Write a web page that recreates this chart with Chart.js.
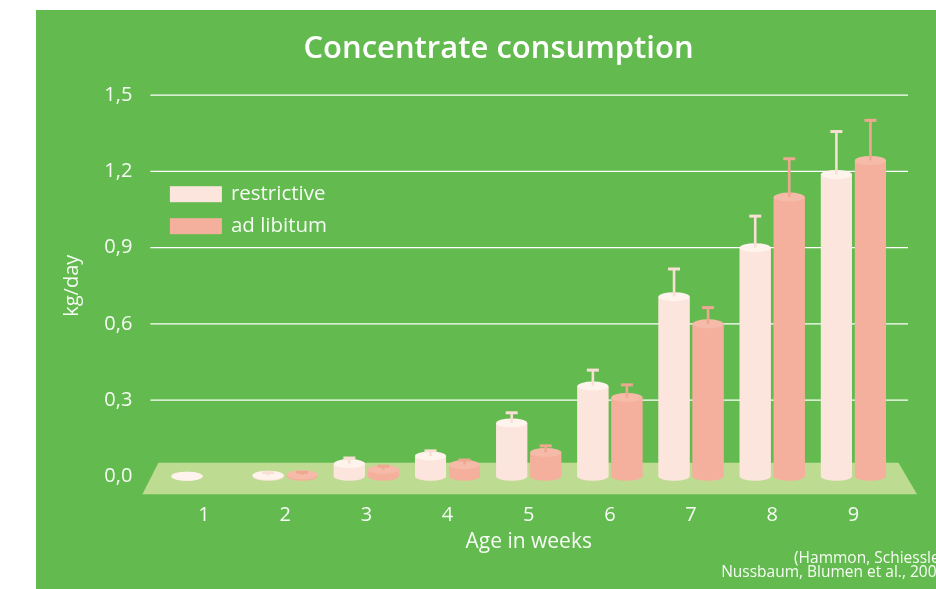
<!DOCTYPE html>
<html>
<head>
<meta charset="utf-8">
<script src="https://cdn.jsdelivr.net/npm/chart.js@4.4.1/dist/chart.umd.min.js"></script>
<style>
  html, body { margin: 0; padding: 0; background: #ffffff; }
  #panel { position: absolute; left: 36px; top: 10px; width: 900px; height: 579px; background: #63bb4f; overflow: hidden; }
</style>
</head>
<body>
<div id="panel"><canvas id="chart" width="900" height="579"></canvas></div>
<script>
// Values (kg/day), error bars as +SD
const weeks = ['1', '2', '3', '4', '5', '6', '7', '8', '9'];
const restrictive = [0.0, 0.004, 0.05, 0.08, 0.21, 0.355, 0.707, 0.90, 1.188];
const restrictiveSd = [null, 0.01, 0.022, 0.02, 0.04, 0.063, 0.109, 0.124, 0.169];
const adLibitum = [null, 0.006, 0.027, 0.046, 0.094, 0.31, 0.60, 1.099, 1.243];
const adLibitumSd = [null, 0.01, 0.013, 0.018, 0.026, 0.05, 0.064, 0.151, 0.158];
const yTicks = [0, 0.3, 0.6, 0.9, 1.2, 1.5];
const sourceLines = ['(Hammon, Schiessler,', 'Nussbaum, Blumen et al., 2002)'];

const FONT = "'Open Sans', sans-serif";
const TEXT = 'rgba(255,255,255,0.94)';

// colours per series: body, lighter top, error bar
const looks = [
    { body: '#fce5dc', top: '#fff3ee', err: '#f9dfd4' },
    { body: '#f4b09c', top: '#f6bba8', err: '#eea790' }
];
const sds = [restrictiveSd, adLibitumSd];

const scenery = {
    id: 'scenery',
    afterLayout(chart) {
        // title sits a bit right of the full-width centre
        chart.titleBlock.left += 57;
    },
    beforeDatasetsDraw(chart) {
        const { ctx, chartArea: a, scales: { y } } = chart;
        ctx.save();
        // grid lines run a little past the plot area
        ctx.strokeStyle = '#ffffff';
        ctx.lineWidth = 1.3;
        yTicks.forEach(v => {
            if (v === 0) return;
            const py = y.getPixelForValue(v);
            ctx.beginPath();
            ctx.moveTo(a.left - 13, py);
            ctx.lineTo(a.right + 14, py);
            ctx.stroke();
        });
        // the light green floor the bars stand on
        const base = y.getPixelForValue(0);
        ctx.fillStyle = '#bddc92';
        ctx.beginPath();
        ctx.moveTo(a.left - 5, base - 13.5);
        ctx.lineTo(a.right + 4.5, base - 13.5);
        ctx.lineTo(a.right + 23, base + 18);
        ctx.lineTo(a.left - 21, base + 18);
        ctx.closePath();
        ctx.fill();
        ctx.restore();
    },
    afterDatasetsDraw(chart) {
        const { ctx, scales: { y } } = chart;
        ctx.save();
        chart.data.datasets.forEach((ds, i) => {
            const look = looks[i];
            chart.getDatasetMeta(i).data.forEach((bar, j) => {
                const v = ds.data[j];
                if (v == null) return;
                const { x, y: top, base, width } = bar.getProps(['x', 'y', 'base', 'width'], true);
                const rx = width / 2, ry = 4.5;
                // cylinder bottom and top
                ctx.fillStyle = look.body;
                ctx.beginPath();
                ctx.ellipse(x, base, rx, ry, 0, 0, Math.PI * 2);
                ctx.fill();
                ctx.fillRect(x - rx, top, width, base - top);
                ctx.fillStyle = look.top;
                ctx.beginPath();
                ctx.ellipse(x, top, rx, ry, 0, 0, Math.PI * 2);
                ctx.fill();
                // error bar
                const sd = sds[i][j];
                if (sd == null) return;
                const ey = y.getPixelForValue(v + sd);
                ctx.strokeStyle = look.err;
                ctx.lineWidth = 2.6;
                ctx.beginPath();
                ctx.moveTo(x, top);
                ctx.lineTo(x, ey);
                ctx.stroke();
                ctx.lineWidth = 3;
                ctx.beginPath();
                ctx.moveTo(x - 6, ey);
                ctx.lineTo(x + 6, ey);
                ctx.stroke();
            });
        });
        ctx.restore();
    },
    afterDraw(chart) {
        const { ctx, chartArea: a, width } = chart;
        ctx.save();
        // legend inside the plot, top left
        ctx.font = '20.5px ' + FONT;
        ctx.textBaseline = 'middle';
        ctx.textAlign = 'left';
        chart.data.datasets.forEach((ds, i) => {
            const bx = a.left + 6.5, by = a.top + 91 + i * 32;
            ctx.fillStyle = ds.backgroundColor;
            ctx.fillRect(bx, by, 52, 16);
            ctx.fillStyle = TEXT;
            ctx.fillText(ds.label, bx + 61, by + 8);
        });
        // source note, clipped at the right edge as in the original
        ctx.font = '15.5px ' + FONT;
        ctx.textAlign = 'right';
        ctx.textBaseline = 'alphabetic';
        sourceLines.forEach((t, k) => ctx.fillText(t, width + 14, 553 + k * 14));
        ctx.restore();
    }
};

new Chart(document.getElementById('chart'), {
    type: 'bar',
    data: {
        labels: weeks,
        datasets: [
            { label: 'restrictive', data: restrictive, backgroundColor: looks[0].body },
            { label: 'ad libitum', data: adLibitum, backgroundColor: looks[1].body }
        ]
    },
    options: {
        responsive: false,
        animation: false,
        events: [],
        categoryPercentage: 0.838,
        barPercentage: 0.912,
        layout: { padding: { top: 10, left: 10, right: 42, bottom: 34 } },
        datasets: { bar: { backgroundColor: 'rgba(0,0,0,0)' } },
        plugins: {
            legend: { display: false },
            tooltip: { enabled: false },
            title: {
                display: true,
                text: 'Concentrate consumption',
                color: '#ffffff',
                font: { family: FONT, size: 31, weight: '600' },
                padding: { top: 11, bottom: 27 }
            }
        },
        scales: {
            x: {
                afterFit: s => { s.height = 78.7; },
                grid: { display: false, drawTicks: false },
                border: { display: false },
                ticks: { color: TEXT, font: { family: FONT, size: 20 }, padding: 27 },
                title: { display: true, text: 'Age in weeks', color: TEXT, font: { family: FONT, size: 21 }, padding: { top: 4, bottom: 0 } }
            },
            y: {
                min: 0,
                max: 1.5,
                afterFit: s => { s.width = 117.4; },
                afterBuildTicks: s => { s.ticks = yTicks.map(v => ({ value: v })); },
                grid: { display: false, drawTicks: false },
                border: { display: false },
                ticks: { color: TEXT, font: { family: FONT, size: 20 }, padding: 31, callback: v => v.toFixed(1).replace('.', ',') },
                title: { display: true, text: 'kg/day', color: TEXT, font: { family: FONT, size: 20 }, padding: { top: 14, bottom: 21 } }
            }
        }
    },
    plugins: [scenery]
});
</script>
</body>
</html>
